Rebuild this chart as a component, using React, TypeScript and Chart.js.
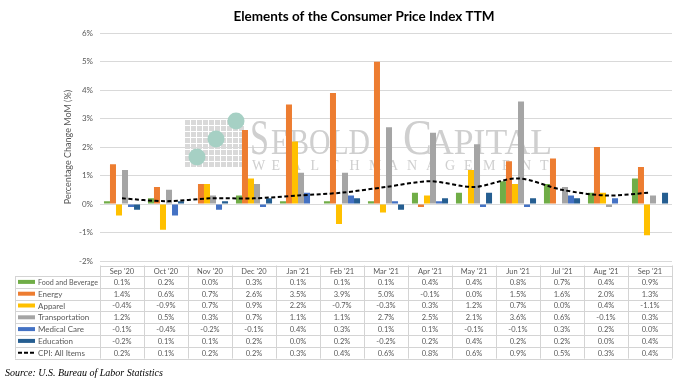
import React, { useEffect, useRef } from "react";
import { Chart, registerables } from "chart.js";

Chart.register(...registerables);

const months = ["Sep '20", "Oct '20", "Nov '20", "Dec '20", "Jan '21", "Feb '21", "Mar '21", "Apr '21", "May '21", "Jun '21", "Jul '21", "Aug '21", "Sep '21"];
const food = [0.1, 0.2, 0.0, 0.3, 0.1, 0.1, 0.1, 0.4, 0.4, 0.8, 0.7, 0.4, 0.9];
const energy = [1.4, 0.6, 0.7, 2.6, 3.5, 3.9, 5.0, -0.1, 0.0, 1.5, 1.6, 2.0, 1.3];
const apparel = [-0.4, -0.9, 0.7, 0.9, 2.2, -0.7, -0.3, 0.3, 1.2, 0.7, 0.0, 0.4, -1.1];
const transportation = [1.2, 0.5, 0.3, 0.7, 1.1, 1.1, 2.7, 2.5, 2.1, 3.6, 0.6, -0.1, 0.3];
const medical = [-0.1, -0.4, -0.2, -0.1, 0.4, 0.3, 0.1, 0.1, -0.1, -0.1, 0.3, 0.2, 0.0];
const education = [-0.2, 0.1, 0.1, 0.2, 0.0, 0.2, -0.2, 0.2, 0.4, 0.2, 0.2, 0.0, 0.4];
const cpi = [0.2, 0.1, 0.2, 0.2, 0.3, 0.4, 0.6, 0.8, 0.6, 0.9, 0.5, 0.3, 0.4];

const seriesNames = ["Food and Beverage", "Energy", "Apparel", "Transportation", "Medical Care", "Education", "CPI: All Items"];
const seriesColors = ["#70AD47", "#ED7D31", "#FFC000", "#A5A5A5", "#4472C4", "#255E91", "#000000"];

const TEXT = "#595959";
const FONT = "Lato, 'DejaVu Sans', sans-serif";

const watermarkPlugin = {
  id: "watermark",
  beforeDatasetsDraw(chart: any) {
    const ctx = chart.ctx as CanvasRenderingContext2D;
    ctx.save();
    ctx.fillStyle = "#d9d9d9";
    const gx = 185, gy = 120, cell = 6;
    for (let r = 0; r < 8; r++) {
      for (let c = 0; c < 10; c++) {
        ctx.fillRect(gx + c * cell, gy + r * cell, cell - 1, cell - 1);
      }
    }
    ctx.fillStyle = "#a6d0c4";
    const circles = [[197, 157], [216, 139], [236, 121]];
    for (const [cx, cy] of circles) {
      ctx.beginPath();
      ctx.arc(cx, cy, 8.5, 0, Math.PI * 2);
      ctx.fill();
    }
    ctx.fillStyle = "#cfcfcf";
    ctx.textBaseline = "alphabetic";
    ctx.textAlign = "left";
    const serif = "'Liberation Serif', 'DejaVu Serif', serif";
    ctx.font = `50px ${serif}`;
    ctx.fillText("S", 250, 154, 19);
    ctx.fillText("C", 403, 154, 29);
    ctx.font = `36px ${serif}`;
    ctx.fillText("EBOLD", 271, 154, 99);
    ctx.fillText("APITAL", 428, 154, 124);
    ctx.font = `14px ${serif}`;
    const w1 = "WEALTH";
    for (let i = 0; i < w1.length; i++) ctx.fillText(w1[i], 252 + i * 19.5, 170);
    const w2 = "MANAGEMENT";
    for (let i = 0; i < w2.length; i++) ctx.fillText(w2[i], 369 + i * 19, 170);
    ctx.restore();
  },
};

const tablePlugin = {
  id: "dataTable",
  afterDraw(chart: any) {
    const ctx = chart.ctx as CanvasRenderingContext2D;
    const area = chart.chartArea;
    const left = area.left;
    const right = area.right;
    const n = months.length;
    const colW = (right - left) / n;
    const y0 = 265.5;
    const y1 = 276;
    const rh = 11.8;
    const labelLeft = 15;
    const rows = [food, energy, apparel, transportation, medical, education, cpi];
    const bottom = y1 + rows.length * rh;
    ctx.save();
    ctx.strokeStyle = "#d4d4d4";
    ctx.lineWidth = 1;
    ctx.beginPath();
    ctx.moveTo(left, Math.round(y0) + 0.5);
    ctx.lineTo(right, Math.round(y0) + 0.5);
    for (let r = 0; r <= rows.length; r++) {
      const y = Math.round(y1 + r * rh) + 0.5;
      ctx.moveTo(labelLeft, y);
      ctx.lineTo(right, y);
    }
    ctx.moveTo(labelLeft + 0.5, y1);
    ctx.lineTo(labelLeft + 0.5, bottom);
    for (let i = 0; i <= n; i++) {
      const x = Math.round(left + i * colW) + 0.5;
      ctx.moveTo(x, y0);
      ctx.lineTo(x, bottom);
    }
    ctx.stroke();

    ctx.fillStyle = TEXT;
    ctx.font = `7.5px ${FONT}`;
    ctx.textBaseline = "middle";
    ctx.textAlign = "center";
    for (let i = 0; i < n; i++) {
      const cx = chart.scales.x.getPixelForValue(i);
      ctx.fillText(months[i], cx, (y0 + y1) / 2 + 0.5);
      for (let r = 0; r < rows.length; r++) {
        ctx.fillText(rows[r][i].toFixed(1) + "%", cx, y1 + r * rh + rh / 2 + 0.5);
      }
    }
    ctx.textAlign = "left";
    for (let r = 0; r < rows.length; r++) {
      const cy = y1 + r * rh + rh / 2;
      if (r < 6) {
        ctx.fillStyle = seriesColors[r];
        ctx.fillRect(18, cy - 2, 17, 4);
      } else {
        ctx.strokeStyle = "#000";
        ctx.lineWidth = 2;
        ctx.setLineDash([4, 2]);
        ctx.beginPath();
        ctx.moveTo(18, cy);
        ctx.lineTo(35, cy);
        ctx.stroke();
        ctx.setLineDash([]);
      }
      ctx.fillStyle = TEXT;
      ctx.font = `8px ${FONT}`;
      ctx.fillText(seriesNames[r], 38, cy + 0.5, 60);
    }
    ctx.fillStyle = "#000";
    ctx.font = "italic 10px 'Liberation Serif', serif";
    ctx.textBaseline = "alphabetic";
    ctx.fillText("Source: U.S. Bureau of Labor Statistics", 5, 376);
    ctx.restore();
  },
};

export default function App() {
  const ref = useRef<HTMLCanvasElement | null>(null);
  useEffect(() => {
    if (!ref.current) return;
    const barSets = [food, energy, apparel, transportation, medical, education].map((d, i) => ({
      type: "bar" as const,
      label: seriesNames[i],
      data: d,
      backgroundColor: seriesColors[i],
      borderWidth: 0,
      categoryPercentage: 0.82,
      barPercentage: 1.0,
      order: 2,
    }));
    const chart = new Chart(ref.current, {
      type: "bar",
      data: {
        labels: months,
        datasets: [
          ...barSets,
          {
            type: "line" as const,
            label: seriesNames[6],
            data: cpi,
            borderColor: "#000",
            borderWidth: 2,
            borderDash: [4, 2.5],
            pointRadius: 0,
            tension: 0.3,
            fill: false,
            order: 1,
          } as any,
        ],
      },
      options: {
        responsive: false,
        animation: false,
        layout: { padding: { left: 56, right: 10, top: 0, bottom: 123 } },
        plugins: {
          legend: { display: false },
          tooltip: { enabled: false },
          title: {
            display: true,
            text: "Elements of the Consumer Price Index TTM",
            color: "#000",
            font: { family: FONT, size: 13.5, weight: "bold" },
            padding: { top: 9, bottom: 8 },
          },
        },
        scales: {
          x: { display: false },
          y: {
            min: -2,
            max: 6,
            afterFit: (scale: any) => {
              scale.width = 44;
            },
            ticks: {
              stepSize: 1,
              padding: 7,
              color: TEXT,
              font: { family: FONT, size: 8 },
              callback: (v: any) => `${v}%`,
            },
            grid: { color: "#d9d9d9", drawTicks: false },
            border: { display: false },
            title: {
              display: true,
              text: "Percentage Change MoM (%)",
              color: TEXT,
              font: { family: FONT, size: 9 },
              padding: { top: 7, bottom: 0 },
            },
          },
        },
      },
      plugins: [watermarkPlugin, tablePlugin],
    });
    return () => chart.destroy();
  }, []);
  return (
    <div style={{ position: "absolute", left: 0, top: 0, width: 682, height: 384, background: "#fff" }}>
      <canvas ref={ref} width={682} height={384} style={{ width: 682, height: 384, display: "block" }} />
    </div>
  );
}
